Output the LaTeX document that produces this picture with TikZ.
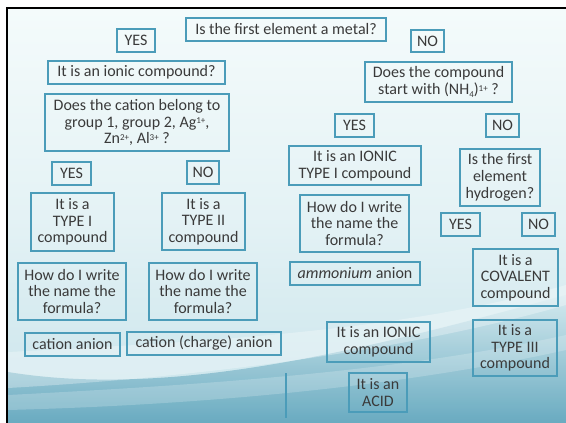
\documentclass[tikz,border=0pt]{standalone}
\usepackage{fontspec}
\setmainfont{Carlito}
\usetikzlibrary{positioning}

\definecolor{boxline}{HTML}{4B9CB9}
\definecolor{ink}{HTML}{3A3A3A}
\definecolor{slidetop}{HTML}{F4FBFB}
\definecolor{slidemid}{HTML}{E4F2F5}
\definecolor{slidelow}{HTML}{C9E4EB}
\definecolor{tealdark}{HTML}{5FA5BC}

\newcommand{\chsup}[1]{\raisebox{0.45ex}{\fontsize{9}{9}\selectfont #1}}
\newcommand{\chsub}[1]{\raisebox{-0.35ex}{\fontsize{9}{9}\selectfont #1}}

\begin{document}
\begin{tikzpicture}
[x=1pt, y=-1pt,
   box/.style={shape=rectangle, draw=boxline, line width=1.1pt, text=ink, inner sep=0pt,
               align=center, font=\fontsize{16}{16.7}\selectfont},
   sep/.style={draw=boxline, line width=1.6pt}]
\useasboundingbox (0,0) rectangle (566,423);
% slide background
\fill[white] (0,0) rectangle (566,423);
\shade[top color=slidetop, bottom color=slidelow, middle color=slidemid] (8,9) rectangle (566,423);
\shade[top color=slidelow!80!white, bottom color=tealdark, opacity=0.9]
  (8,372) .. controls (180,400) and (380,345) .. (566,295) -- (566,423) -- (8,423) -- cycle;
\fill[white, opacity=0.3]
  (8,352) .. controls (200,342) and (400,332) .. (566,285) -- (566,305)
  .. controls (400,352) and (200,377) .. (8,388) -- cycle;
\fill[white, opacity=0.2]
  (8,395) .. controls (200,385) and (400,372) .. (566,335) -- (566,350)
  .. controls (400,387) and (200,405) .. (8,410) -- cycle;
\fill[black] (6,7) rectangle (566,9);
\fill[black] (6,7) rectangle (8,423);

% metal question
\node[box, minimum width=200, minimum height=23] (Metal) at (286,29.5) {Is the first element a metal?};
\node[box, minimum width=38, minimum height=23] (YesMetal) at (136,40.5) {YES};
\node[box, minimum width=33, minimum height=22] (NoMetal) at (427.5,41) {NO};

% metal branch
\node[box, minimum width=177, minimum height=23] (Ionic) at (136.5,72.5) {It is an ionic compound?};
\node[box, minimum width=184, minimum height=57] (Cation) at (137,122.5)
  {Does the cation belong to\\group 1, group 2, Ag\chsup{1+},\\Zn\chsup{2+}, Al\chsup{3+} ?};
\node[box, minimum width=39, minimum height=23] (YesCat) at (71.5,173.5) {YES};
\node[box, minimum width=32, minimum height=23] (NoCat) at (203,172.5) {NO};
\node[box, minimum width=83, minimum height=58] (TypeI) at (72.5,222) {It is a\\TYPE I\\compound};
\node[box, minimum width=83, minimum height=57] (TypeII) at (203.5,221.5) {It is a\\TYPE II\\compound};
\node[box, minimum width=108, minimum height=57] (HowI) at (72,291.5) {How do I write\\the name the\\formula?};
\node[box, minimum width=108, minimum height=57] (HowII) at (203,291.5) {How do I write\\the name the\\formula?};
\node[box, minimum width=95, minimum height=23] (NameI) at (72.5,344.5) {cation anion};
\node[box, minimum width=154, minimum height=23] (NameII) at (204,343.5) {cation (charge) anion};

% non-metal branch
\node[box, minimum width=147, minimum height=40] (Ammon) at (438.5,82)
  {Does the compound\\start with (NH\chsub{4})\chsup{1+} ?};
\node[box, minimum width=39, minimum height=23] (YesAm) at (354.5,125.5) {YES};
\node[box, minimum width=33, minimum height=23] (NoAm) at (502.5,125.5) {NO};
\node[box, minimum width=132, minimum height=39] (IonicI) at (355,165.5) {It is an IONIC\\TYPE I compound};
\node[box, minimum width=109, minimum height=57] (HowAm) at (354.5,223.5) {How do I write\\the name the\\formula?};
\node[box, minimum width=130, minimum height=23] (NameAm) at (355,273.5) {\textit{ammonium} anion};
\node[box, minimum width=80, minimum height=57] (Hydro) at (500,177.5) {Is the first\\element\\hydrogen?};
\node[box, minimum width=39, minimum height=23] (YesH) at (460.5,224.5) {YES};
\node[box, minimum width=33, minimum height=23] (NoH) at (538.5,224.5) {NO};
\node[box, minimum width=85, minimum height=57] (Covalent) at (515.5,277.5) {It is a\\COVALENT\\compound};
\node[box, minimum width=84, minimum height=56] (TypeIII) at (515,348) {It is a\\TYPE III\\compound};
\node[box, minimum width=103, minimum height=40] (IonicH) at (378.5,342) {It is an IONIC\\compound};
\node[box, minimum width=58, minimum height=39] (Acid) at (378,392.5) {It is an\\ACID};

\coordinate (SepTop) at (286,373);
\coordinate (SepBot) at (286,418);
\draw[sep] (SepTop) -- (SepBot);
\end{tikzpicture}
\end{document}
